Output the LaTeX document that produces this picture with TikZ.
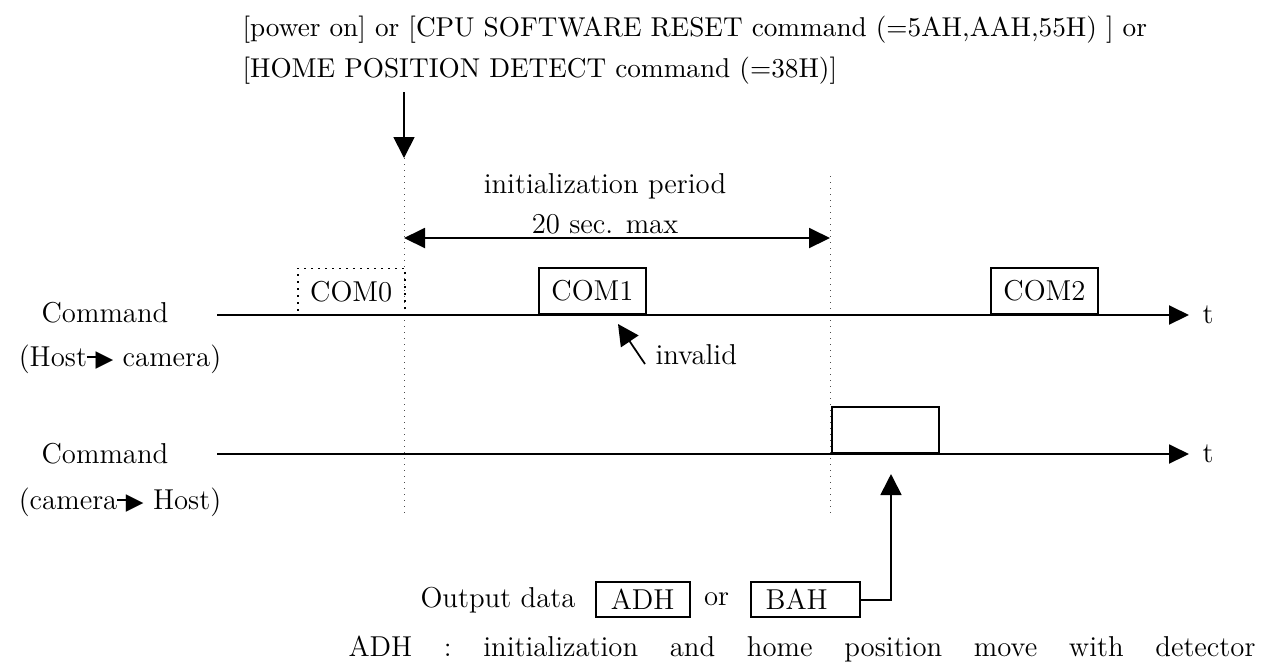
\documentclass[tikz,border=0pt]{standalone}
\usepackage{fontspec}
\newfontfamily\symfont{DejaVu Sans}
\usetikzlibrary{arrows.meta,positioning}
\newcommand{\dirarrow}{\rule[0.28em]{0.35em}{0.6pt}\kern-0.05em{\symfont\scalebox{0.8}{▶}}}
\tikzset{
  lbl/.style={inner sep=0pt, font=\fontsize{11.5pt}{13.8pt}\selectfont},
  toplbl/.style={lbl, font=\fontsize{10.9pt}{13pt}\selectfont},
  sigline/.style={line width=0.8pt, -{Triangle[length=8pt,width=7.6pt]}},
  markarrow/.style={line width=0.7pt, -{Triangle[length=8.4pt,width=8.4pt]}},
  spanarrow/.style={line width=0.8pt, {Triangle[length=8.4pt,width=8pt]}-{Triangle[length=8.4pt,width=8pt]}},
  guide/.style={dotted, line width=0.4pt, draw=black!70},
  cmdbox/.style={lbl, draw, line width=0.8pt, anchor=south west,
    minimum width=42.8pt, minimum height=18.4pt},
  outbox/.style={lbl, draw, line width=0.8pt, minimum height=14pt, inner xsep=6pt}
}

\begin{document}
\begin{tikzpicture}[x=0.4pt, y=-0.4pt]
  \useasboundingbox (0,0) rectangle (1274,663);

  % trigger condition
  \node[toplbl, anchor=base west] (trig1) at (242,36)
    {[power on] or [CPU SOFTWARE RESET command (=5AH,AAH,55H) ] or};
  \node[toplbl, anchor=base west] (trig2) at (242,77)
    {[HOME POSITION DETECT command (=38H)]};

  \coordinate (trigTop) at (404,92);
  \coordinate (t0) at (404,158);
  \coordinate (t0end) at (404,517);
  \coordinate (t1) at (830,176);
  \coordinate (t1end) at (830,517);

  \draw[markarrow] (trigTop) -- (t0);
  \draw[guide] (t0) -- (t0end);
  \draw[guide] (t1) -- (t1end);

  % initialization period
  \node[lbl, anchor=base] (initlbl) at (605,193) {initialization period};
  \node[lbl, anchor=base] (maxlbl) at (605,233) {20 sec. max};
  \coordinate (spanL) at (404,238);
  \coordinate (spanR) at (830,238);
  \draw[spanarrow] (spanL) -- (spanR);

  % host -> camera
  \node[lbl, anchor=base] (cmdA) at (105,322) {Command};
  \node[lbl, anchor=base] (dirA) at (120,366) {(Host\dirarrow\ camera)};
  \coordinate (axA0) at (217,315);
  \coordinate (axA1) at (1189,315);
  \node[lbl, anchor=west] (tA) at (1202,315) {t};
  \draw[sigline] (axA0) -- (axA1);

  \node[cmdbox, dotted, line width=0.6pt] (com0) at (297,315) {COM0};
  \node[cmdbox] (com1) at (538,315) {COM1};
  \node[cmdbox] (com2) at (990,315) {COM2};

  \node[lbl, anchor=base west] (inv) at (655,364) {invalid};
  \coordinate (invTip) at (618,324);
  \draw[markarrow] ([xshift=-4pt]inv.base west) -- (invTip);

  % camera -> host
  \node[lbl, anchor=base] (cmdB) at (105,463) {Command};
  \node[lbl, anchor=base] (dirB) at (120,509) {(camera\dirarrow\ Host)};
  \coordinate (axB0) at (217,454);
  \coordinate (axB1) at (1189,454);
  \node[lbl, anchor=west] (tB) at (1202,454) {t};
  \draw[sigline] (axB0) -- (axB1);

  \node[cmdbox, minimum width=42.8pt] (reply) at (831,454) {};

  % reply data
  \node[lbl, anchor=base west] (outlbl) at (420,607) {Output data};
  \node[outbox, right=7.6pt of outlbl] (adh) {ADH};
  \node[lbl, right=5.2pt of adh] (orlbl) {or};
  \node[outbox, right=8pt of orlbl, text width=31.6pt, align=left] (bah) {BAH};
  \coordinate (ackTip) at (891,474);
  \draw[markarrow] (bah.east) -| (ackTip);

  \node[lbl, anchor=base west] (note) at (348,656)
    {\makebox[362.8pt][s]{ADH : initialization and home position move with detector}};
\end{tikzpicture}
\end{document}
